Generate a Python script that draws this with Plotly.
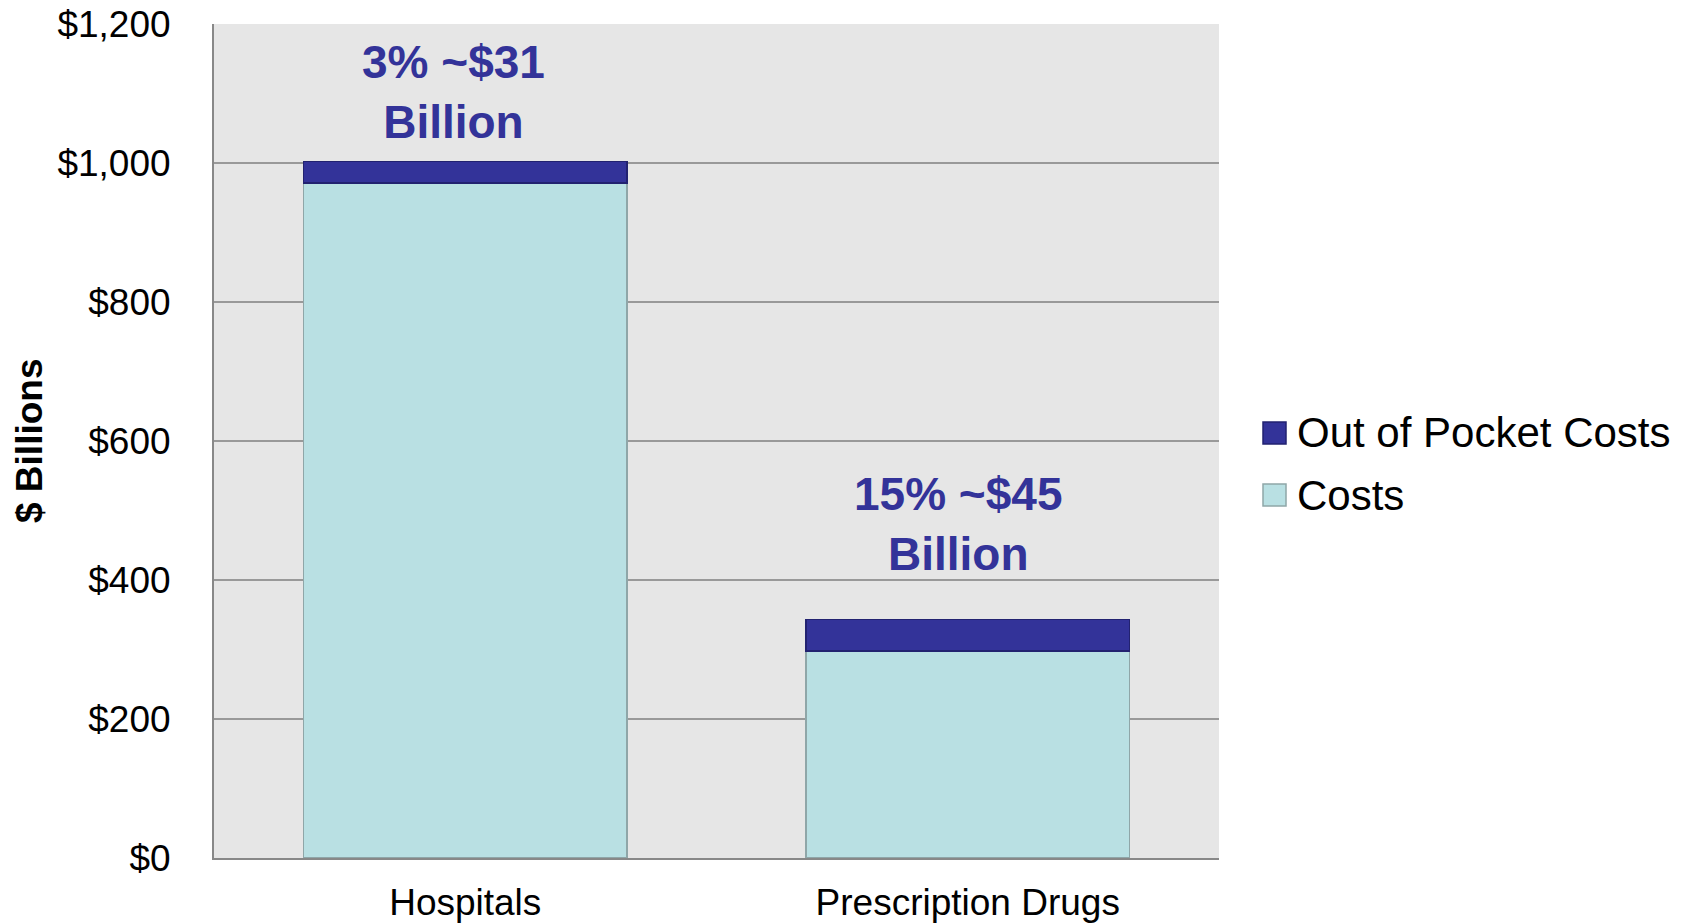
import plotly.graph_objects as go

categories = ["Hospitals", "Prescription Drugs"]
costs = [971, 298]
out_of_pocket = [31, 45]
labels = ["3% ~$31<br>Billion", "15% ~$45<br>Billion"]
y_ticks = [0, 200, 400, 600, 800, 1000, 1200]
y_tick_text = ["$0", "$200", "$400", "$600", "$800", "$1,000", "$1,200"]
legend_names = ["Out of Pocket Costs", "Costs"]

FONT = "Liberation Sans, Arial, sans-serif"
COST_COLOR = "#B9E0E3"
COST_LINE = "#8FA6A8"
OOP_COLOR = "#333399"
OOP_LINE = "#222270"

W, H = 1696, 924
L, R, T, B = 214, 477, 24, 66
PW, PH = W - L - R, H - T - B


def px_x(px):
    return (px - L) / PW


def px_y(py):
    return (H - B - py) / PH


fig = go.Figure()
fig.add_trace(go.Bar(
    x=categories, y=costs, name="Costs", showlegend=False,
    marker=dict(color=COST_COLOR, line=dict(color=COST_LINE, width=1.5)),
))
fig.add_trace(go.Bar(
    x=categories, y=out_of_pocket, name="Out of Pocket Costs", showlegend=False,
    marker=dict(color=OOP_COLOR, line=dict(color=OOP_LINE, width=1.5)),
))

totals = [c + o for c, o in zip(costs, out_of_pocket)]
shifts = [70, 96]
xshifts = [-12, -10]
for cat, tot, lab, ys, xs in zip(categories, totals, labels, shifts, xshifts):
    fig.add_annotation(
        x=cat, y=tot, text=f"<b>{lab}</b>", showarrow=False,
        yanchor="middle", yshift=ys, xshift=xs,
        font=dict(family=FONT, size=46, color=OOP_COLOR),
    )

fig.add_annotation(
    xref="paper", yref="paper", x=px_x(29), y=0.5, text="<b>$ Billions</b>",
    textangle=-90, showarrow=False, xanchor="center", yanchor="middle",
    font=dict(family=FONT, size=37, color="#000000"),
)

# custom legend (larger swatches than plotly's native bar legend)
legend_fill = [OOP_COLOR, COST_COLOR]
legend_line = [OOP_LINE, COST_LINE]
legend_cy = [433, 495]
for name, fc, lc, cy in zip(legend_names, legend_fill, legend_line, legend_cy):
    fig.add_shape(
        type="rect", xref="paper", yref="paper",
        x0=px_x(1263), x1=px_x(1286), y0=px_y(cy + 11), y1=px_y(cy - 11),
        fillcolor=fc, line=dict(color=lc, width=1.5),
    )
    fig.add_annotation(
        xref="paper", yref="paper", x=px_x(1295), y=px_y(cy), text=name,
        showarrow=False, xanchor="left", yanchor="middle",
        font=dict(family=FONT, size=42, color="#000000"),
    )

fig.update_layout(
    barmode="stack",
    bargap=0.357,
    width=W, height=H,
    margin=dict(l=L, r=R, t=T, b=B, autoexpand=False),
    paper_bgcolor="#FFFFFF",
    plot_bgcolor="#E6E6E6",
    font=dict(family=FONT, size=36, color="#000000"),
    showlegend=False,
    xaxis=dict(
        showgrid=False, showline=True, linecolor="#888888", linewidth=2,
        ticks="", ticklabelstandoff=11, tickfont=dict(size=37),
        automargin=False,
    ),
    yaxis=dict(
        range=[0, 1200], tickvals=y_ticks, ticktext=y_tick_text,
        showgrid=True, gridcolor="#999999", gridwidth=1.5,
        showline=True, linecolor="#888888", linewidth=2,
        ticks="", ticklabelstandoff=34, tickfont=dict(size=37),
        zeroline=False, automargin=False,
    ),
)

fig.write_html("out.html")
